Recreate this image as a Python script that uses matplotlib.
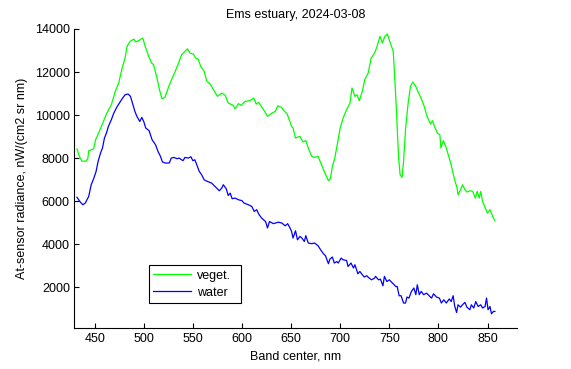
import matplotlib
matplotlib.use('Agg')
import matplotlib.pyplot as plt

# values
veg_nm = [432, 434.5, 437, 441, 443, 444, 449, 451, 454, 459, 462.5, 467, 471, 474.5,
          478, 481, 483, 486, 490, 492, 495, 499, 501.5, 505, 508, 510, 513.5, 516,
          518.5, 521.5, 525.5, 529, 532, 535.5, 538.5, 544.5, 547, 550.5, 553, 555.5,
          558, 561.5, 564, 568, 571, 575, 579.5, 583, 586, 591, 593, 596.5, 599, 603,
          608, 612, 614.5, 617, 619, 622, 626, 630.5, 634, 636.5, 640, 643, 646, 648.5,
          650.5, 652, 654.5, 659, 662, 665, 667.5, 671, 674, 677.5, 681, 684.5, 688,
          690, 692, 694.5, 697, 700, 703, 706.5, 710, 712, 715, 717, 719.5, 722.5, 725,
          728.5, 731.5, 735, 737, 740.5, 743, 745.5, 748, 751, 754, 756, 757.5, 758.5,
          759.5, 761, 763, 764.5, 766.5, 769, 771.5, 774, 777, 779, 781.5, 785, 788,
          789.5, 792, 794, 796, 799, 801.5, 802.5, 805, 807.5, 810, 812.5, 814.5, 816.5,
          819, 820, 822.5, 824.5, 827, 829, 832, 835, 837.5, 839.5, 841.5, 843, 845,
          847.5, 850, 852.5, 856, 857.5]
veg_rad = [8430, 8080, 7850, 7860, 7950, 8340, 8430, 8850, 9160, 9700, 10090, 10480,
           11100, 11490, 12190, 12650, 13190, 13420, 13530, 13400, 13460, 13580, 13190,
           12730, 12420, 12340, 11720, 11180, 10760, 10820, 11330, 11720, 12030, 12420,
           12800, 13080, 12880, 12840, 12650, 12600, 12260, 12030, 11600, 11410, 11180,
           10870, 11020, 10910, 10560, 10450, 10290, 10530, 10450, 10630, 10670, 10790,
           10510, 10590, 10450, 10250, 9940, 10090, 10170, 10430, 10360, 10190, 10050,
           9740, 9470, 9400, 8930, 9010, 8750, 8810, 8470, 8080, 8030, 8080, 7690, 7300,
           6950, 7040, 7610, 8000, 8620, 9400, 9860, 10250, 10560, 11260, 10870, 10940,
           10670, 11100, 11640, 11950, 12650, 12880, 13120, 13660, 13350, 13660, 13770,
           13350, 12960, 11330, 10010, 8930, 8000, 7220, 7100, 7840, 9320, 10480, 11330,
           11540, 11330, 11100, 10870, 10480, 10010, 9830, 9580, 9740, 9470, 9160, 9080,
           8470, 8810, 8540, 8150, 7770, 7380, 6990, 6610, 6290, 6530, 6760, 6530, 6420,
           6480, 6450, 6140, 6450, 6140, 6450, 5980, 5700, 5440, 5600, 5210, 5090]

water_nm = [432, 435.5, 438, 440.5, 444, 446.5, 449, 451.5, 453.5, 456, 458, 460, 462,
            464, 467, 469.5, 473, 476, 478.5, 481, 484, 486.5, 489, 491, 493, 496, 498,
            500, 502, 505.5, 508.5, 512, 514.5, 517, 519, 522, 526, 528, 530.5, 534, 536,
            538.5, 540, 542, 545.5, 548, 550, 552, 554, 556.5, 559, 561.5, 565, 569,
            572.5, 577, 579.5, 581, 584, 586, 588, 590, 593, 596.5, 600, 602, 606.5, 610,
            612.5, 615, 617, 620, 624, 626, 628, 632, 637, 640.5, 644, 646.5, 648.5,
            650.5, 652, 654.5, 656.5, 659, 661, 663.5, 665, 667.5, 671, 674, 677.5, 680,
            683, 685, 688, 689.5, 692, 694, 696.5, 698, 701, 703, 706.5, 708, 711, 713.5,
            715, 718, 720, 722.5, 724.5, 727, 729.5, 732, 735, 736, 739, 741, 743.5, 745,
            747.5, 750, 752.5, 755, 756.5, 758, 760, 762, 764.5, 766.5, 768, 770, 772.5,
            775, 777, 778.5, 780.5, 782.5, 785, 788, 790.5, 793, 795, 798, 801, 803,
            805.5, 808, 811, 813, 815, 816.5, 818.5, 820, 822.5, 824.5, 827, 829, 832,
            833.5, 836, 838, 840.5, 843, 845, 847.5, 849, 850.5, 852.5, 854, 856, 857.5]
water_rad = [6180, 5950, 5830, 5910, 6220, 6760, 7040, 7380, 7840, 8230, 8470, 8930, 9160,
             9470, 9780, 10090, 10400, 10610, 10790, 10940, 10980, 10870, 10480, 10170,
             9940, 9700, 9890, 9700, 9400, 9270, 8850, 8620, 8310, 8080, 7820, 7770, 7770,
             8000, 8030, 7970, 8000, 7920, 7880, 8030, 8000, 8060, 7880, 7920, 7690, 7380,
             7220, 6990, 6910, 6840, 6680, 6480, 6610, 6760, 6570, 6260, 6370, 6110, 6140,
             6060, 6020, 5910, 5830, 5750, 5520, 5600, 5400, 5210, 5050, 4750, 5050, 4950,
             5020, 4980, 4850, 4950, 4790, 4590, 4280, 4620, 4200, 4360, 4280, 4120, 4390,
             4050, 4020, 4050, 3920, 3740, 3550, 3460, 3090, 3300, 3400, 3120, 3190, 3120,
             3350, 3270, 3240, 2960, 3120, 2890, 3040, 2620, 2730, 2580, 2470, 2530, 2420,
             2340, 2420, 2500, 2340, 2370, 2060, 2500, 2260, 2340, 2220, 2110, 2030, 2030,
             1600, 1600, 1260, 1260, 1540, 1490, 1800, 1960, 1650, 2110, 1650, 1800, 1650,
             1720, 1600, 1490, 1690, 1540, 1490, 1260, 1410, 1260, 1450, 1330, 1600, 1130,
             820, 1180, 1070, 1180, 1290, 1070, 950, 1180, 1030, 1330, 1100, 1180, 1030,
             1100, 1490, 950, 1100, 760, 870, 870]

x_ticks = [450, 500, 550, 600, 650, 700, 750, 800, 850]
y_ticks = [2000, 4000, 6000, 8000, 10000, 12000, 14000]

plt.rcParams['font.family'] = ['Liberation Sans', 'DejaVu Sans']
plt.rcParams['font.size'] = 9

fig = plt.figure(figsize=(5.71, 3.69), dpi=100)
ax = fig.add_axes([74 / 571, 1 - 328 / 369, 443 / 571, 299 / 369])

ax.plot(veg_nm, veg_rad, color=(0, 1, 0), lw=0.9, label='veget.')
ax.plot(water_nm, water_rad, color=(0, 0, 1), lw=0.9, label='water')

ax.set_xlim(429, 880)
ax.set_ylim(100, 14000)
ax.set_xticks(x_ticks)
ax.set_yticks(y_ticks)
ax.tick_params(direction='in', length=3.3, width=0.8, colors='black')
ax.tick_params(axis='x', pad=3.5)
ax.tick_params(axis='y', pad=3)
for side in ['top', 'right']:
    ax.spines[side].set_visible(False)
for side in ['left', 'bottom']:
    ax.spines[side].set_linewidth(0.8)

ax.set_title('Ems estuary, 2024-03-08', fontsize=9, pad=8)
ax.set_xlabel('Band center, nm', labelpad=4)
ax.set_ylabel('At-sensor radiance, nW/(cm2 sr nm)', labelpad=5)

leg = ax.legend(loc='lower left', bbox_to_anchor=(0.169, 0.084, 0.208, 0.14),
                mode='expand', borderaxespad=0, fancybox=False, framealpha=1,
                handlelength=3.0, handletextpad=0.5, labelspacing=0.4,
                borderpad=0.35)
leg.get_frame().set_edgecolor('black')
leg.get_frame().set_linewidth(0.8)

fig.savefig('out.png', dpi=100)
